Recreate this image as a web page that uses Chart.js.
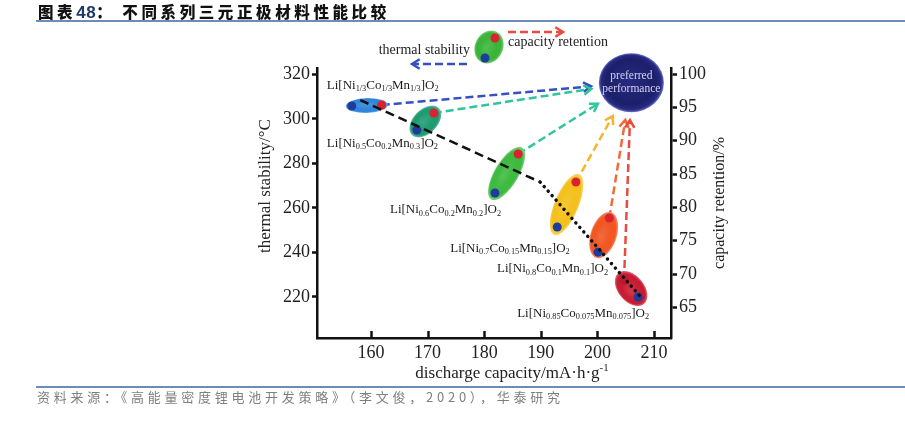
<!DOCTYPE html>
<html><head><meta charset="utf-8">
<script src="https://cdn.jsdelivr.net/npm/chart.js@4.4.1/dist/chart.umd.min.js"></script>
<style>
html,body{margin:0;padding:0;background:#fff;}
#wrap{position:relative;width:905px;height:429px;overflow:hidden;background:#fff;}
#c{position:absolute;left:0;top:0;}
#title{position:absolute;left:38px;top:1px;font-family:"Noto Sans CJK SC";font-weight:900;font-size:15.5px;letter-spacing:3.6px;color:#111;line-height:20px;white-space:nowrap;}
#title .num{font-family:"Liberation Sans";font-weight:700;font-size:17px;color:#1f3864;letter-spacing:0.5px;}
#tline{position:absolute;left:36px;top:20px;width:869px;height:2px;background:#6a8cbb;}
#bline{position:absolute;left:36px;top:386px;width:869px;height:2px;background:#6a8cbb;}
#foot{position:absolute;left:37px;top:388px;font-family:"Noto Sans CJK SC";font-size:13px;letter-spacing:3.75px;color:#7f7f7f;line-height:18px;white-space:nowrap;}
</style></head>
<body><div id="wrap">
<canvas id="c" width="905" height="429"></canvas>
<div id="title">图表<span class="num">48</span>：&nbsp;不同系列三元正极材料性能比较</div>
<div id="tline"></div>
<div id="bline"></div>
<div id="foot">资料来源：《高能量密度锂电池开发策略》（李文俊，2020），华泰研究</div>
</div>
<script>
// ---------------- data ----------------
const materials = [
  "Li[Ni_{1/3}Co_{1/3}Mn_{1/3}]O_{2}",
  "Li[Ni_{0.5}Co_{0.2}Mn_{0.3}]O_{2}",
  "Li[Ni_{0.6}Co_{0.2}Mn_{0.2}]O_{2}",
  "Li[Ni_{0.7}Co_{0.15}Mn_{0.15}]O_{2}",
  "Li[Ni_{0.8}Co_{0.1}Mn_{0.1}]O_{2}",
  "Li[Ni_{0.85}Co_{0.075}Mn_{0.075}]O_{2}"
];
const thermalCapacity   = [156.6, 168.1, 181.9, 192.9, 200.1, 207.2]; // blue dots, x
const thermalStability  = [305.8, 295.0, 266.7, 251.4, 240.1, 219.9]; // blue dots, left axis
const retentionCapacity = [161.9, 171.1, 186.0, 196.2, 202.1, 204.7]; // red dots, x
const capacityRetention = [95.35, 94.15, 88.0, 83.8, 78.4, 69.1];     // red dots, right axis
const trendCapacity = [158.1, 189.9, 207.5];
const trendThermal  = [308.5, 271.6, 220.4];
const preferredCapacity  = [206.0];
const preferredRetention = [98.7];
const xTicks = [160, 170, 180, 190, 200, 210];
const thermalTicks = [220, 240, 260, 280, 300, 320];
const retentionTicks = [65, 70, 75, 80, 85, 90, 95, 100];

// ---------------- styles ----------------
const ellipseColors = ["#2f86dc", "#1f9b72", "#3dba3f", "#f4c01c", "#f15623", "#c81c33"];
const ellipseMinor  = [7.5, 12, 12, 12, 13, 13];
const ellipseExtra  = [6, 7, 7.5, 8.5, 6, 9];
const arrowColors   = ["#3650c4", "#2fc4a0", "#2fc79c", "#f5b52e", "#f26a3c", "#ea4a3f"];
const labelOffsets  = [[-25, -22], [-90, 12], [-105, 16], [-107, 20], [-101, 15], [-121, 15]];
const BLUE_DOT = "#1e3c9c", RED_DOT = "#d9232e";
const SERIF = '"Liberation Serif", "DejaVu Serif", serif';

function shade(hex, p) {
  const n = parseInt(hex.slice(1), 16);
  let r = n >> 16, g = (n >> 8) & 255, b = n & 255;
  const t = p < 0 ? 0 : 255, q = Math.abs(p);
  r = Math.round(r + (t - r) * q); g = Math.round(g + (t - g) * q); b = Math.round(b + (t - b) * q);
  return `rgb(${r},${g},${b})`;
}
function glossyEllipse(ctx, cx, cy, a, b, ang, color) {
  ctx.save();
  ctx.translate(cx, cy); ctx.rotate(ang); ctx.scale(a, b);
  const g = ctx.createRadialGradient(-0.1, -0.15, 0.05, 0, 0, 1);
  g.addColorStop(0, shade(color, 0.12));
  g.addColorStop(0.55, color);
  g.addColorStop(0.85, color);
  g.addColorStop(1, shade(color, 0.35));
  ctx.beginPath(); ctx.arc(0, 0, 1, 0, Math.PI * 2);
  ctx.fillStyle = g; ctx.fill();
  ctx.restore();
}
function dot(ctx, x, y, r, c) {
  ctx.beginPath(); ctx.arc(x, y, r, 0, Math.PI * 2); ctx.fillStyle = c; ctx.fill();
}
function dashedArrow(ctx, sx, sy, ex, ey, color) {
  const ang = Math.atan2(ey - sy, ex - sx);
  ctx.save();
  ctx.strokeStyle = color; ctx.lineWidth = 2.5;
  ctx.setLineDash([8, 4]);
  ctx.beginPath(); ctx.moveTo(sx, sy); ctx.lineTo(ex - Math.cos(ang) * 2, ey - Math.sin(ang) * 2); ctx.stroke();
  ctx.setLineDash([]);
  const h = 9, w = 0.55;
  ctx.beginPath();
  ctx.moveTo(ex - h * Math.cos(ang - w), ey - h * Math.sin(ang - w));
  ctx.lineTo(ex, ey);
  ctx.lineTo(ex - h * Math.cos(ang + w), ey - h * Math.sin(ang + w));
  ctx.stroke();
  ctx.restore();
}
function richText(ctx, str, x, y, size, align) {
  const parts = []; const re = /([_^])\{([^}]*)\}/g; let last = 0, m;
  while ((m = re.exec(str))) {
    if (m.index > last) parts.push([str.slice(last, m.index), 0]);
    parts.push([m[2], m[1] === '_' ? 1 : 2]);
    last = re.lastIndex;
  }
  if (last < str.length) parts.push([str.slice(last), 0]);
  const fontFor = k => (k ? size * 0.64 : size) + 'px ' + SERIF;
  let total = 0;
  for (const [t, k] of parts) { ctx.font = fontFor(k); total += ctx.measureText(t).width; }
  let cx = align === 'center' ? x - total / 2 : x;
  ctx.textAlign = 'left'; ctx.textBaseline = 'alphabetic';
  for (const [t, k] of parts) {
    ctx.font = fontFor(k);
    const dy = k === 1 ? size * 0.22 : (k === 2 ? -size * 0.42 : 0);
    ctx.fillText(t, cx, y + dy);
    cx += ctx.measureText(t).width;
  }
}

const PREF_RX = 32.5, PREF_RY = 29.5;

const decor = {
  id: 'decor',
  beforeDatasetsDraw(chart) {
    const { ctx, scales: { x, y, y1 } } = chart;
    const pcx = x.getPixelForValue(preferredCapacity[0]);
    const pcy = y1.getPixelForValue(preferredRetention[0]);
    // arrows from each retention point to the preferred-performance target
    for (let i = 0; i < materials.length; i++) {
      const sx = x.getPixelForValue(retentionCapacity[i]);
      const sy = y1.getPixelForValue(capacityRetention[i]);
      const dx = pcx - sx, dy = pcy - sy, L = Math.hypot(dx, dy);
      const ux = dx / L, uy = dy / L;
      const t = 1 / Math.sqrt((ux / (PREF_RX + 8)) ** 2 + (uy / (PREF_RY + 8)) ** 2);
      dashedArrow(ctx, sx, sy, pcx - ux * t, pcy - uy * t, arrowColors[i]);
    }
    // material ellipses
    for (let i = 0; i < materials.length; i++) {
      const bx = x.getPixelForValue(thermalCapacity[i]), by = y.getPixelForValue(thermalStability[i]);
      const rx = x.getPixelForValue(retentionCapacity[i]), ry = y1.getPixelForValue(capacityRetention[i]);
      const cx = (bx + rx) / 2, cy = (by + ry) / 2;
      const ang = Math.atan2(ry - by, rx - bx);
      const half = Math.hypot(rx - bx, ry - by) / 2;
      glossyEllipse(ctx, cx, cy, half + ellipseExtra[i], ellipseMinor[i], ang, ellipseColors[i]);
    }
    // preferred performance bubble
    ctx.save();
    ctx.translate(pcx, pcy); ctx.scale(PREF_RX, PREF_RY);
    const g = ctx.createRadialGradient(-0.1, -0.1, 0.05, 0, 0, 1);
    g.addColorStop(0, '#262a7e'); g.addColorStop(0.75, '#1c1f69');
    g.addColorStop(0.92, '#262b82'); g.addColorStop(1, '#6a70c0');
    ctx.beginPath(); ctx.arc(0, 0, 1, 0, Math.PI * 2); ctx.fillStyle = g; ctx.fill();
    ctx.restore();
    ctx.save();
    ctx.fillStyle = '#d2d3f2'; ctx.font = '11.5px ' + SERIF; ctx.textAlign = 'center'; ctx.textBaseline = 'middle';
    ctx.fillText('preferred', pcx, pcy - 6.5);
    ctx.fillText('performance', pcx, pcy + 6);
    ctx.restore();
  },
  afterDatasetsDraw(chart) {
    const { ctx, chartArea: ca, scales: { x, y } } = chart;
    ctx.save();
    // inward x ticks
    ctx.strokeStyle = '#111'; ctx.lineWidth = 2.5;
    for (const v of xTicks) {
      const px = Math.round(x.getPixelForValue(v)) + 0.5;
      ctx.beginPath(); ctx.moveTo(px, ca.bottom); ctx.lineTo(px, ca.bottom - 7); ctx.stroke();
    }
    // compound labels
    ctx.fillStyle = '#1a1a1a';
    for (let i = 0; i < materials.length; i++) {
      const bx = x.getPixelForValue(thermalCapacity[i]), by = y.getPixelForValue(thermalStability[i]);
      richText(ctx, materials[i], bx + labelOffsets[i][0], by + labelOffsets[i][1] + 4.5, 13, 'left');
    }
    // axis titles
    ctx.fillStyle = '#222';
    ctx.save(); ctx.translate(ca.left - 51, ca.top + 118); ctx.rotate(-Math.PI / 2);
    ctx.font = '17px ' + SERIF; ctx.textAlign = 'center'; ctx.textBaseline = 'middle';
    ctx.fillText('thermal stability/°C', 0, 0); ctx.restore();
    ctx.save(); ctx.translate(ca.right + 49, (ca.top + ca.bottom) / 2); ctx.rotate(-Math.PI / 2);
    ctx.font = '16px ' + SERIF; ctx.textAlign = 'center'; ctx.textBaseline = 'middle';
    ctx.fillText('capacity retention/%', 0, 0); ctx.restore();
    richText(ctx, 'discharge capacity/mA·h·g^{-1}', (ca.left + ca.right) / 2 + 18, ca.bottom + 40, 17, 'center');
    // explanatory key above the plot
    const ax = ca.left + 172, ay = ca.top - 21;
    dashedArrow(ctx, ax + 19, ay - 15, ax + 74, ay - 15, '#ea4a3f');
    dashedArrow(ctx, ax - 22, ay + 17, ax - 77, ay + 17, '#3650c4');
    glossyEllipse(ctx, ax, ay, 17, 14, Math.atan2(-20, 10), '#3ab53a');
    dot(ctx, ax + 6, ay - 9, 4.5, RED_DOT);
    dot(ctx, ax - 4, ay + 11, 4.5, BLUE_DOT);
    ctx.fillStyle = '#222'; ctx.font = '14px ' + SERIF; ctx.textBaseline = 'middle';
    ctx.textAlign = 'right'; ctx.fillText('thermal stability', ax - 19, ay + 3);
    ctx.textAlign = 'left'; ctx.fillText('capacity retention', ax + 19, ay - 5);
    ctx.restore();
  }
};

const tickFont = { family: 'Liberation Serif', size: 18 };
new Chart(document.getElementById('c'), {
  type: 'scatter',
  data: {
    datasets: [
      { data: trendCapacity.slice(0, 2).map((v, i) => ({ x: v, y: trendThermal[i] })), yAxisID: 'y',
        showLine: true, borderColor: '#111', borderWidth: 2.5, borderDash: [9, 5], pointRadius: 0 },
      { data: trendCapacity.slice(1).map((v, i) => ({ x: v, y: trendThermal[i + 1] })), yAxisID: 'y',
        showLine: true, borderColor: '#111', borderWidth: 3.5, borderDash: [0.01, 6], borderCapStyle: 'round', pointRadius: 0 },
      { data: thermalCapacity.map((v, i) => ({ x: v, y: thermalStability[i] })), yAxisID: 'y',
        pointRadius: 4.5, pointBackgroundColor: BLUE_DOT, pointBorderWidth: 0 },
      { data: retentionCapacity.map((v, i) => ({ x: v, y: capacityRetention[i] })), yAxisID: 'y1',
        pointRadius: 4.5, pointBackgroundColor: materials.map((m, i) => i === 5 ? '#b81a2e' : RED_DOT), pointBorderWidth: 0 }
    ]
  },
  options: {
    responsive: false, animation: false, devicePixelRatio: 1,
    layout: { padding: { left: 0, right: 0, top: 68, bottom: 0 } },
    plugins: { legend: { display: false }, tooltip: { enabled: false } },
    scales: {
      x: {
        type: 'linear', position: 'bottom', min: 150.46, max: 213.0,
        afterBuildTicks: s => { s.ticks = xTicks.map(v => ({ value: v })); },
        afterFit: s => { s.height = 429 - 338; },
        grid: { display: true, drawOnChartArea: false, drawTicks: false },
        border: { display: true, color: '#111', width: 2.5 },
        ticks: { font: tickFont, color: '#222', padding: 4, maxRotation: 0, autoSkip: false }
      },
      y: {
        type: 'linear', position: 'left', min: 201.5, max: 322.9,
        afterBuildTicks: s => { s.ticks = thermalTicks.map(v => ({ value: v })); },
        afterFit: s => { s.width = 317; },
        grid: { display: true, drawOnChartArea: false, drawTicks: true, tickLength: 5, tickWidth: 2.5, tickColor: '#111' },
        border: { display: true, color: '#111', width: 2.5 },
        ticks: { font: tickFont, color: '#222', padding: 2, autoSkip: false }
      },
      y1: {
        type: 'linear', position: 'right', min: 60.4, max: 100.9,
        afterBuildTicks: s => { s.ticks = retentionTicks.map(v => ({ value: v })); },
        afterFit: s => { s.width = 905 - 671; },
        grid: { display: true, drawOnChartArea: false, drawTicks: true, tickLength: 6, tickWidth: 2.5, tickColor: '#111' },
        border: { display: true, color: '#111', width: 2.5 },
        ticks: { font: tickFont, color: '#222', padding: 2, autoSkip: false }
      }
    }
  },
  plugins: [decor]
});
</script>
</body></html>
